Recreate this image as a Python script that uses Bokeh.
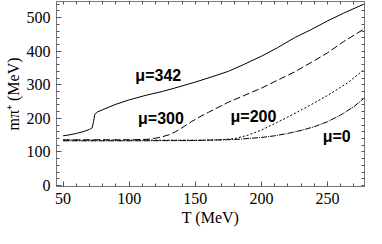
from bokeh.plotting import figure
from bokeh.models import LinearAxis, Range1d, SingleIntervalTicker, FixedTicker
from bokeh.embed import file_html
from bokeh.resources import INLINE
from bokeh.core.properties import value

# mu = 342 MeV (solid)
T_342 = [50, 55, 60, 65, 70, 72, 73, 74, 76, 80, 90, 100, 112, 125, 137, 150, 162, 175, 187, 200, 212, 225, 237, 250, 262, 278]
M_342 = [148, 151, 155, 160, 167, 172, 190, 212, 219, 226, 242, 255, 268, 280, 293, 308, 323, 340, 361, 385, 410, 440, 463, 490, 513, 541]

# mu = 300 MeV (dashed)
T_300 = [50, 75, 100, 110, 115, 120, 125, 130, 135, 140, 147, 155, 160, 175, 187, 200, 214, 225, 237, 250, 262, 278]
M_300 = [136, 136, 136, 137, 138, 141, 145, 151, 160, 172, 190, 208, 218, 248, 268, 290, 317, 338, 365, 395, 428, 467]

# mu = 200 MeV (dotted)
T_200 = [50, 100, 150, 170, 180, 190, 200, 210, 220, 235, 250, 265, 278]
M_200 = [135, 135, 135, 136, 140, 150, 165, 184, 204, 235, 268, 305, 346]

# mu = 0 (dash-dot)
T_0 = [50, 100, 150, 180, 200, 210, 220, 230, 240, 250, 260, 270, 278]
M_0 = [133, 133, 134, 137, 143, 148, 155, 164, 175, 190, 210, 235, 261]

LABEL_T = [122, 124, 194, 257]
LABEL_M = [329, 199, 204, 147]
LABEL_TEXT = ["\u03bc=342", "\u03bc=300", "\u03bc=200", "\u03bc=0"]

X_TICK_STEP = 50
Y_TICK_STEP = 100
X_MINOR_STEP = 10
Y_MINOR_STEP = 20

p = figure(width=366, height=228, output_backend="svg", toolbar_location=None,
           x_range=Range1d(45, 278), y_range=Range1d(-3, 548),
           min_border_left=56, min_border_right=2, min_border_top=1,
           min_border_bottom=40)
p.xgrid.visible = False
p.ygrid.visible = False
p.outline_line_color = "#777777"
p.background_fill_color = "white"
p.border_fill_color = "white"

p.line(T_342, M_342, line_color="black", line_width=1)
p.line(T_300, M_300, line_color="black", line_width=1, line_dash="7 3")
p.line(T_200, M_200, line_color="black", line_width=1, line_dash="2 2")
p.line(T_0, M_0, line_color="black", line_width=1, line_dash="6 1 1 1")

p.text(x=LABEL_T, y=LABEL_M, text=LABEL_TEXT, text_font=value("Liberation Sans"),
       text_font_style="bold", text_font_size="16px", text_align="center",
       text_baseline="middle", text_color="black")

serif = "Liberation Serif"

def style_axis(ax):
    ax.axis_line_color = "#777777"
    ax.major_tick_line_color = "#555555"
    ax.minor_tick_line_color = "#555555"
    ax.major_tick_in = 5
    ax.major_tick_out = 0
    ax.minor_tick_in = 3
    ax.minor_tick_out = 0
    ax.major_label_text_font = serif
    ax.major_label_text_color = "black"
    ax.major_label_text_font_size = "16px"
    ax.major_label_standoff = 6

p.xaxis.ticker = SingleIntervalTicker(interval=X_TICK_STEP, num_minor_ticks=5)
p.yaxis.ticker = SingleIntervalTicker(interval=Y_TICK_STEP, num_minor_ticks=5)
style_axis(p.xaxis[0])
style_axis(p.yaxis[0])
p.xaxis.axis_label = "T (MeV)"
p.yaxis.axis_label = "m\u03c0\u207a (MeV)"
for ax in (p.xaxis[0], p.yaxis[0]):
    ax.axis_label_text_font = serif
    ax.axis_label_text_font_size = "16px"
    ax.axis_label_text_font_style = "normal"
    ax.axis_label_text_color = "black"
    ax.axis_label_standoff = 2

# frame ticks on top and right (no labels): only minor ticks via FixedTicker
top_ticks = list(range(0, 300 + 1, X_MINOR_STEP))
right_ticks = list(range(0, 560 + 1, Y_MINOR_STEP))
top = LinearAxis(ticker=FixedTicker(ticks=[], minor_ticks=top_ticks))
right = LinearAxis(ticker=FixedTicker(ticks=[], minor_ticks=right_ticks))
for ax in (top, right):
    ax.axis_line_color = "#777777"
    ax.minor_tick_line_color = "#555555"
    ax.minor_tick_in = 3
    ax.minor_tick_out = 0
    ax.major_tick_in = 0
    ax.major_tick_out = 0
p.add_layout(top, "above")
p.add_layout(right, "right")

open("out.html", "w").write(file_html(p, INLINE))
